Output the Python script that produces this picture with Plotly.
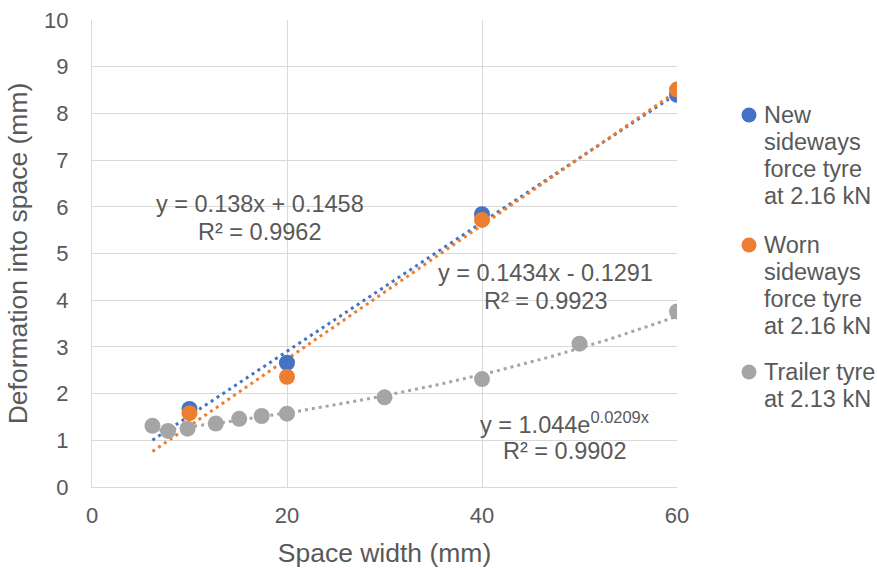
import numpy as np
import plotly.graph_objects as go

# Data
new_x = [10, 20, 40, 60]
new_y = [1.67, 2.66, 5.84, 8.40]
worn_x = [10, 20, 40, 60]
worn_y = [1.58, 2.36, 5.72, 8.51]
trailer_x = [6.2, 7.8, 9.8, 12.7, 15.1, 17.4, 20, 30, 40, 50, 60]
trailer_y = [1.31, 1.20, 1.25, 1.36, 1.46, 1.52, 1.57, 1.92, 2.31, 3.07, 3.76]

series_names = ["New sideways force tyre at 2.16 kN",
                "Worn sideways force tyre at 2.16 kN",
                "Trailer tyre at 2.13 kN"]
legend_lines = [["New", "sideways", "force tyre", "at 2.16 kN"],
                ["Worn", "sideways", "force tyre", "at 2.16 kN"],
                ["Trailer tyre", "at 2.13 kN"]]
colors = ["#4472C4", "#ED7D31", "#A5A5A5"]

# Trendline coefficients (as displayed)
new_fit = [0.138, 0.1458]
worn_fit = [0.1434, -0.1291]
trailer_fit = [1.044, 0.0209]
fit_eqs = ["y = 0.138x + 0.1458",
           "y = 0.1434x - 0.1291",
           "y = 1.044e<sup>0.0209x</sup>"]
fit_r2 = ["R² = 0.9962", "R² = 0.9923", "R² = 0.9902"]
label_pos = [(17.2, 5.75), (46.5, 4.28), (48.5, 1.07)]

FONT = "Liberation Sans, Arial, sans-serif"
TXT = "#595959"

# plot-area geometry (pixels)
W, H = 877, 568
ML, MR, MT, MB = 92, 200, 20, 81
PW, PH = W - ML - MR, H - MT - MB

xt = np.linspace(6.2, 60, 100)
fits_y = [new_fit[0] * xt + new_fit[1],
          worn_fit[0] * xt + worn_fit[1],
          trailer_fit[0] * np.exp(trailer_fit[1] * xt)]

fig = go.Figure()
dash = "3px,4px"
for i, fy in enumerate(fits_y):
    fig.add_trace(go.Scatter(x=xt, y=fy, mode="lines", showlegend=False,
                             line=dict(color=colors[i], width=3, dash=dash),
                             hoverinfo="skip"))

all_series = [(new_x, new_y), (worn_x, worn_y), (trailer_x, trailer_y)]
for idx in [2, 0, 1]:
    xs, ys = all_series[idx]
    fig.add_trace(go.Scatter(x=xs, y=ys, mode="markers", name=series_names[idx],
                             showlegend=False,
                             marker=dict(color=colors[idx], size=16)))

for (lx, ly), eq, r2 in zip(label_pos, fit_eqs, fit_r2):
    fig.add_annotation(x=lx, y=ly, text=eq, showarrow=False, yshift=14,
                       font=dict(size=23.5, color=TXT, family=FONT))
    fig.add_annotation(x=lx, y=ly, text=r2, showarrow=False, yshift=-14,
                       font=dict(size=23.5, color=TXT, family=FONT))

# Manual legend (pixel layout)
leg_text_x = 762
leg_marker_x = 749
line_gap = 27
group_starts = [115, 245, 372]
for g, lines in enumerate(legend_lines):
    y0 = group_starts[g]
    mx = (leg_marker_x - ML) / PW
    my = 1 - (y0 - MT) / PH
    fig.add_shape(type="circle", xref="paper", yref="paper",
                  xsizemode="pixel", ysizemode="pixel",
                  xanchor=mx, yanchor=my, x0=-7.5, x1=7.5, y0=-7.5, y1=7.5,
                  fillcolor=colors[g], line=dict(width=0))
    for k, line in enumerate(lines):
        py = y0 + k * line_gap
        fig.add_annotation(xref="paper", yref="paper",
                           x=(leg_text_x - ML) / PW, y=1 - (py - MT) / PH,
                           xanchor="left", yanchor="middle", text=line,
                           showarrow=False,
                           font=dict(size=23.5, color=TXT, family=FONT))

fig.update_layout(
    width=W, height=H,
    margin=dict(l=ML, r=MR, t=MT, b=MB),
    paper_bgcolor="white", plot_bgcolor="white",
    font=dict(family=FONT, size=22, color=TXT),
    showlegend=False,
    xaxis=dict(range=[0, 60], tickvals=[0, 20, 40, 60], showgrid=True,
               gridcolor="#D9D9D9", gridwidth=1, zeroline=False,
               showline=True, linecolor="#D9D9D9", automargin=False,
               title=dict(text="Space width (mm)", font=dict(size=26.5), standoff=16),
               tickfont=dict(size=22), ticks="outside", ticklen=9,
               tickcolor="rgba(0,0,0,0)"),
    yaxis=dict(range=[0, 10], dtick=1, showgrid=True, gridcolor="#D9D9D9",
               zeroline=False, showline=True, linecolor="#D9D9D9", automargin=False,
               title=dict(text="Deformation into space (mm)", font=dict(size=26.5), standoff=8),
               tickfont=dict(size=22), ticks="outside", ticklen=18,
               tickcolor="rgba(0,0,0,0)"),
)
fig.write_html("out.html", config={"displayModeBar": False},
               post_script="document.body.style.margin='0px';document.body.style.overflow='hidden';")
